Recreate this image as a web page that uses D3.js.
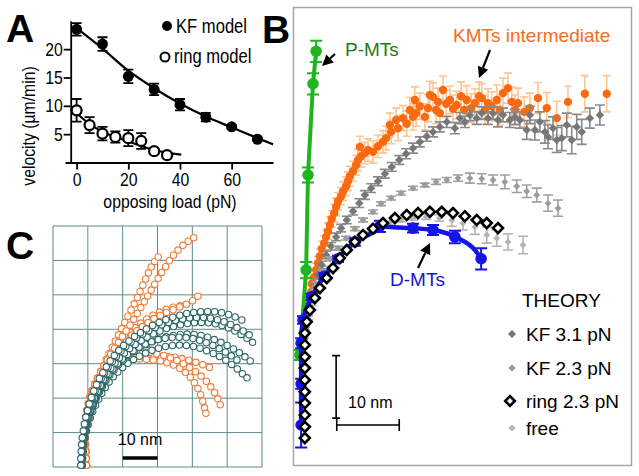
<!DOCTYPE html>
<html>
<head>
<meta charset="utf-8">
<script src="https://cdn.jsdelivr.net/npm/d3@7"></script>
<style>
body { margin: 0; background: #fff; }
</style>
</head>
<body>
<div id="chart"></div>
<script>
// ---- panel A : velocity vs opposing load ----
const loadKF = [0, 10, 20, 30, 40, 50, 60, 70];
const velKF = [23.5, 20.9, 15.2, 12.9, 10.2, 8.0, 6.3, 4.1];
const errKF = [1.1, 1.2, 1.2, 1.0, 1.0, 0.75, 0.3, 0.3];
const loadRing = [0, 5, 10, 15, 20, 25, 30, 35];
const velRing = [9.2, 6.6, 5.1, 4.5, 4.3, 3.8, 2.0, 1.3];
const errRing = [2.0, 1.4, 1.2, 1.0, 1.4, 1.4, 0.5, 0.3];
const fitKF = [[0,23.7],[10,20.1],[20,16.2],[30,13.1],[40,10.4],[50,8.1],[60,6.2],[70,4.3],[76,3.2]];
const fitRing = [[0,8.7],[5,6.8],[10,5.4],[15,4.5],[20,3.7],[25,2.9],[30,2.2],[35,1.7],[40.5,1.4]];
const xTicksA = [0, 20, 40, 60];
const yTicksA = [5, 10, 15, 20];

// ---- panel B : trajectories in nm, [x, y, error] ----
const greenP = [[2.1,62.2,1.7],[1.6,57.0,1.7],[0.8,42.4,1.2],[0.5,27.2,1.3],[-0.5,13.6,0.8]];
const orangeKMT = [[0.0,10.0,1.0],[0.1,13.0,1.0],[0.2,16.3,1.0],[0.3,17.9,1.0],[0.5,19.5,1.0],[0.6,21.0,1.0],[1.0,22.4,1.0],[1.3,23.7,1.0],[1.4,25.0,1.1],[1.8,26.1,1.1],[2.1,27.2,1.1],[2.4,28.3,1.1],[2.7,29.4,1.2],[3.0,30.6,1.2],[3.4,31.5,1.2],[3.7,32.5,1.2],[4.0,33.4,1.3],[4.3,34.4,1.3],[4.6,35.4,1.3],[5.0,36.3,1.4],[5.3,37.3,1.4],[5.6,38.2,1.4],[6.1,39.0,1.4],[6.4,39.8,1.5],[6.9,40.6,1.5],[7.2,41.4,1.5],[7.5,42.2,1.6],[8.0,43.0,1.6],[8.5,44.0,1.6],[8.8,44.8,1.7],[9.3,45.4,1.7],[9.9,45.9,1.7],[9.1,46.9,1.7],[10.4,46.4,1.8],[11.2,46.1,1.8],[12.0,47.0,1.8],[12.8,47.7,1.8],[13.3,48.3,1.9],[13.9,50.4,1.9],[14.1,49.3,1.9],[14.9,51.2,1.9],[15.2,49.9,2.0],[16.0,51.5,2.0],[16.6,50.6,2.0],[17.1,52.8,2.0],[17.6,51.7,2.1],[17.9,54.4,2.1],[18.1,52.3,2.1],[18.7,53.4,2.1],[19.5,51.7,2.1],[20.0,53.1,2.2],[20.3,55.2,2.2],[20.8,54.9,2.2],[21.3,52.8,2.2],[21.6,54.1,2.2],[21.9,52.3,2.2],[22.4,56.0,2.2],[22.9,53.8,2.2],[23.5,54.4,2.2],[24.0,53.0,2.2],[24.6,53.6,2.2],[25.3,55.0,2.3],[25.8,52.8,2.3],[26.2,54.4,2.3],[26.9,53.1,2.3],[27.5,53.9,2.3],[28.2,55.0,2.3],[28.6,54.7,2.3],[29.1,52.8,2.3],[29.6,53.9,2.3],[30.2,53.4,2.3],[31.0,54.4,2.4],[31.5,52.8,2.4],[32.0,55.5,2.4],[32.8,56.3,2.4],[33.4,54.1,2.4],[33.9,52.8,2.4],[34.4,53.9,2.4],[35.4,52.5,2.4],[36.3,53.1,2.4],[37.6,54.7,2.5],[39.0,53.1,2.5],[40.6,51.5,2.7],[42.4,54.1,2.5],[45.1,55.4,2.9],[48.6,55.4,2.9]];
const kf31 = [[0.3,17.6,0.5],[0.6,19.5,0.5],[1.0,21.3,0.5],[1.4,23.0,0.5],[1.9,24.8,0.5],[2.4,26.4,0.6],[3.0,28.0,0.6],[3.7,29.6,0.6],[4.5,31.0,0.6],[5.3,32.5,0.6],[6.1,33.9,0.6],[7.0,35.2,0.6],[8.0,36.6,0.6],[9.0,37.9,0.7],[9.9,39.2,0.7],[10.9,40.3,0.7],[12.0,41.4,0.7],[13.1,42.6,0.7],[14.2,43.7,0.7],[15.4,44.8,0.7],[16.5,45.8,0.8],[17.6,46.7,0.8],[18.7,47.7,0.8],[19.8,48.6,0.8],[20.8,49.3,0.8],[21.9,50.1,0.8],[23.0,50.9,0.9],[24.3,49.9,0.9],[25.1,51.5,0.9],[25.9,50.9,0.9],[26.7,52.0,0.9],[27.8,51.5,1.0],[28.6,52.3,1.0],[29.6,51.5,1.0],[30.4,52.3,1.0],[31.2,51.2,1.1],[32.0,52.0,1.1],[33.1,51.2,1.2],[33.9,51.7,1.2],[34.7,51.2,1.3],[35.8,49.6,1.5],[36.3,52.0,1.4],[37.1,49.6,1.6],[37.9,50.9,1.6],[38.7,49.3,1.8],[39.2,48.5,1.9],[40.0,49.9,1.8],[40.6,48.0,2.0],[41.4,48.3,2.0],[42.2,50.4,1.9],[43.0,48.0,2.2],[43.8,50.1,2.0],[44.6,49.3,2.0],[45.9,51.5,1.6],[47.5,52.0,1.6]];
const kf23 = [[0.3,17.9,0.3],[0.8,20.3,0.3],[1.4,22.7,0.3],[2.2,25.0,0.3],[3.2,27.0,0.3],[4.3,29.0,0.3],[5.6,30.7,0.3],[6.9,32.3,0.3],[8.3,33.8,0.3],[9.6,35.2,0.3],[11.2,36.5,0.3],[12.5,37.8,0.3],[14.1,38.7,0.3],[15.7,39.5,0.3],[17.6,40.3,0.3],[19.5,40.8,0.3],[21.3,41.3,0.4],[23.0,41.6,0.4],[24.8,41.9,0.5],[26.7,41.9,0.8],[28.6,41.8,0.8],[30.4,41.6,0.8],[32.3,41.3,1.1],[34.2,40.6,1.0],[35.8,39.8,1.0],[37.4,39.2,1.1],[39.2,37.9,1.3],[40.8,37.1,1.3]];
const ring23 = [[0.3,0.3],[0.3,2.1],[0.3,4.0],[0.3,5.9],[0.3,7.7],[0.3,9.6],[0.3,11.5],[0.3,13.3],[0.3,15.2],[0.3,17.1],[0.6,18.9],[1.1,20.8],[1.9,22.7],[2.7,24.3],[3.8,25.9],[4.8,27.5],[5.9,29.1],[7.0,30.4],[8.3,31.7],[9.6,32.8],[11.2,33.8],[12.8,34.7],[14.7,35.5],[16.6,36.0],[18.4,36.3],[20.3,36.5],[22.2,36.5],[24.0,36.3],[25.9,35.8],[27.8,35.2],[29.4,34.7],[31.2,33.9]];
const free = [[0.3,17.3,0.3],[0.8,19.5,0.3],[1.4,21.8,0.3],[2.2,23.8,0.3],[3.2,25.8,0.3],[4.3,27.5,0.3],[5.6,29.1,0.3],[7.0,30.6,0.3],[8.5,31.8,0.3],[10.1,33.0,0.3],[11.8,33.9,0.3],[13.8,34.7,0.3],[15.7,35.2,0.3],[17.6,35.5,0.3],[19.7,35.7,0.4],[21.8,35.5,0.5],[23.8,35.2,1.0],[25.6,34.7,1.1],[27.5,34.1,1.2],[29.4,32.8,1.3],[31.0,32.3,1.3],[32.8,31.7,1.3],[35.2,31.2,1.4]];
const blueD = [[-0.3,2.4,3.6],[-0.3,9.0,0.8],[-0.3,15.5,0.8],[0.0,19.2,0.6],[1.4,22.9,0.5],[3.4,26.2,0.5],[5.6,29.0,0.5],[8.3,31.7,0.6],[12.3,34.2,0.9],[17.6,33.9,0.7],[20.8,33.6,0.8],[24.3,32.5,1.0],[28.5,29.0,1.7]];
const legendB = ['KF 3.1 pN', 'KF 2.3 pN', 'ring 2.3 pN', 'free'];

// ---- panel C : simulated protofilament shapes, nm ----
const teal1 = [[8.0,0.5],[8.0,2.5],[8.1,4.5],[8.2,6.5],[8.4,8.5],[8.7,10.5],[9.0,12.5],[9.4,14.5],[9.9,16.4],[10.4,18.3],[11.0,20.2],[11.7,22.1],[12.5,23.9],[13.3,25.7],[14.3,27.4],[15.3,29.1],[16.4,30.8],[17.6,32.4],[18.9,33.9],[20.3,35.3],[21.8,36.6],[23.4,37.9],[25.1,39.0],[26.8,40.1],[28.6,41.1],[30.5,42.0],[32.4,42.8],[34.4,43.5],[36.4,44.1],[38.4,44.6],[40.4,44.9],[42.4,45.1],[44.4,45.2],[46.4,45.1],[48.4,44.8],[50.4,44.3],[52.3,43.6],[54.2,42.7]];
const teal2 = [[8.2,0.5],[8.2,2.5],[8.3,4.5],[8.5,6.5],[8.8,8.5],[9.1,10.5],[9.5,12.5],[10.0,14.4],[10.6,16.3],[11.2,18.2],[11.9,20.1],[12.7,21.9],[13.6,23.7],[14.5,25.4],[15.5,27.1],[16.6,28.7],[17.8,30.2],[19.1,31.7],[20.5,33.1],[22.0,34.4],[23.6,35.6],[25.3,36.7],[27.0,37.7],[28.8,38.7],[30.7,39.5],[32.6,40.2],[34.6,40.8],[36.6,41.3],[38.6,41.7],[40.6,41.9],[42.6,42.0],[44.6,41.9],[46.6,41.6],[48.5,41.1],[50.4,40.4],[52.2,39.5],[54.0,38.5],[55.7,37.4],[57.3,36.2]];
const teal3 = [[8.3,0.5],[8.4,2.5],[8.5,4.5],[8.7,6.5],[9.0,8.5],[9.4,10.5],[9.8,12.4],[10.3,14.3],[10.9,16.2],[11.6,18.1],[12.4,19.9],[13.3,21.7],[14.2,23.4],[15.2,25.1],[16.3,26.7],[17.5,28.2],[18.8,29.7],[20.2,31.1],[21.7,32.4],[23.3,33.6],[25.0,34.7],[26.8,35.6],[28.6,36.5],[30.5,37.2],[32.5,37.8],[34.5,38.2],[36.5,38.5],[38.5,38.6],[40.5,38.5],[42.5,38.2],[44.4,37.7],[46.3,37.0],[48.2,36.2],[50.0,35.3],[51.8,34.3],[53.5,33.2],[55.1,32.0],[56.6,30.8]];
const teal4 = [[8.4,0.5],[8.5,2.5],[8.7,4.5],[8.9,6.5],[9.2,8.5],[9.6,10.4],[10.1,12.3],[10.7,14.2],[11.4,16.1],[12.2,17.9],[13.1,19.7],[14.0,21.4],[15.0,23.1],[16.1,24.7],[17.3,26.2],[18.6,27.6],[20.0,28.9],[21.5,30.1],[23.1,31.2],[24.8,32.2],[26.6,33.1],[28.4,33.9],[30.3,34.5],[32.3,35.0],[34.3,35.3],[36.3,35.4],[38.3,35.3],[40.3,35.0],[42.2,34.5],[44.1,33.8],[46.0,33.0],[47.8,32.1],[49.6,31.0],[51.3,29.8],[52.9,28.5],[54.4,27.1],[55.7,25.9]];
const teal5 = [[8.1,0.5],[8.2,2.5],[8.3,4.5],[8.5,6.5],[8.8,8.5],[9.2,10.5],[9.6,12.5],[10.1,14.4],[10.7,16.3],[11.4,18.2],[12.2,20.0],[13.0,21.8],[13.9,23.6],[14.9,25.3],[16.0,26.9],[17.2,28.5],[18.5,30.0],[19.9,31.4],[21.4,32.7],[23.0,33.8],[24.7,34.8],[26.5,35.7],[28.3,36.4],[30.2,37.0],[32.2,37.4],[34.2,37.6],[36.2,37.7],[38.2,37.6],[40.2,37.3],[42.1,36.8],[44.0,36.1],[45.9,35.3],[47.7,34.4],[49.5,33.4],[51.2,32.3],[52.8,31.1]];
const teal6 = [[8.1,0.5],[8.1,2.5],[8.2,4.5],[8.4,6.5],[8.6,8.5],[8.9,10.5],[9.3,12.5],[9.7,14.5],[10.2,16.4],[10.8,18.3],[11.4,20.2],[12.1,22.0],[12.9,23.8],[13.8,25.6],[14.8,27.3],[15.8,29.0],[17.0,30.6],[18.2,32.1],[19.5,33.6],[20.9,35.0],[22.4,36.3],[24.0,37.5],[25.7,38.6],[27.5,39.6],[29.3,40.5],[31.2,41.3],[33.2,42.0],[35.2,42.6],[37.2,43.0],[39.2,43.3],[41.2,43.4],[43.2,43.4],[45.2,43.2],[47.2,42.8],[49.1,42.2],[51.0,41.4],[52.8,40.5],[54.6,39.5],[56.3,38.4]];
const orangeStem = [[9.6,0.5],[9.5,2.5],[9.4,4.5],[9.3,6.5],[9.2,8.5],[9.2,10.5],[9.3,12.5],[9.5,14.5],[9.8,16.5],[10.2,18.4],[10.7,20.3],[11.3,22.2],[12.0,24.0],[12.8,25.8],[13.7,27.6]];
const orange1 = orangeStem.concat([[14.6,29.4],[15.6,31.1],[16.6,32.8],[17.7,34.5],[18.8,36.2],[19.9,37.9],[21.0,39.5],[22.1,41.2],[23.2,42.9],[24.2,44.6],[25.2,46.3],[26.2,48.0],[27.2,49.7],[28.2,51.4],[29.2,53.1],[30.2,54.8],[31.2,56.5],[32.3,58.2],[33.4,59.9],[34.6,61.5],[35.9,63.0],[37.3,64.4],[38.8,65.6],[40.4,66.6]]);
const orange2 = orangeStem.concat([[14.5,29.4],[15.3,31.2],[16.1,33.0],[17.0,34.8],[17.9,36.6],[18.8,38.4],[19.7,40.2],[20.6,42.0],[21.5,43.8],[22.4,45.6],[23.3,47.4],[24.2,49.2],[25.0,51.0],[25.8,52.8],[26.6,54.6],[27.4,56.4],[28.2,58.1],[29.2,59.7],[30.2,61.0]]);
const orange3 = orangeStem.concat([[14.8,29.3],[16.0,30.9],[17.2,32.5],[18.5,34.0],[19.8,35.5],[21.2,36.9],[22.6,38.3],[24.1,39.6],[25.7,40.8],[27.3,42.0],[29.0,43.1],[30.8,44.0],[32.6,44.9],[34.5,45.7],[36.4,46.5],[38.3,47.3],[40.1,48.3],[41.6,49.6]]);
const orange4 = orangeStem.concat([[15.3,28.8],[17.1,29.7],[19.0,30.4],[21.0,30.9],[23.0,31.3],[25.0,31.6],[27.0,31.8],[29.0,32.0],[31.0,32.1],[33.0,32.1],[35.0,31.9],[37.0,31.5],[39.0,31.0],[41.0,30.4],[43.0,29.7],[44.9,28.9]]);
const orange5 = orangeStem.concat([[15.2,29.0],[16.9,30.1],[18.8,30.8],[20.8,31.2],[22.8,31.4],[24.8,31.4],[26.8,31.3],[28.8,31.1],[30.8,30.8],[32.7,30.3],[34.6,29.6],[36.4,28.7],[38.0,27.5],[39.4,26.1],[40.6,24.5],[41.6,22.8],[42.4,21.0],[43.0,19.1],[43.5,17.2],[43.9,15.6]]);
const orange6 = orangeStem.concat([[15.0,29.1],[16.5,30.5],[18.1,31.7],[19.9,32.6],[21.8,33.2],[23.8,33.5],[25.8,33.5],[27.8,33.3],[29.8,32.9],[31.8,32.4],[33.7,31.7],[35.6,30.9],[37.4,30.0],[39.2,28.9],[40.9,27.7],[42.5,26.4],[44.0,24.9],[45.3,23.3],[46.4,21.6],[47.3,19.8],[48.0,18.1]]);
const orange7 = orangeStem.concat([[14.7,29.4],[15.8,31.1],[16.9,32.8],[18.1,34.4],[19.4,36.0],[20.7,37.6],[22.1,39.1],[23.6,40.5],[25.2,41.8],[26.9,43.0],[28.7,44.1],[30.6,45.0],[32.5,45.8],[34.5,46.4],[36.5,46.8]]);
const tealRuns = [teal4, teal3, teal5, teal2, teal6, teal1];
const orangeRuns = [orange4, orange5, orange6, orange7, orange3, orange2, orange1];
const gridC = [0, 10, 20, 30, 40, 50, 60, 70];

const SANS = '"Liberation Sans", Arial, sans-serif';

const svg = d3.select('#chart').append('svg')
    .attr('width', 639).attr('height', 476)
    .style('font-family', SANS);

function errorBars(g, data, x, y, color, cap, width) {
    g.append('g').attr('stroke', color).attr('stroke-width', width).attr('fill', 'none')
        .selectAll('path').data(data).join('path')
        .attr('d', d => {
            const cx = x(d[0]), y0 = y(d[1] - d[2]), y1 = y(d[1] + d[2]);
            return `M${cx},${y0}V${y1}M${cx - cap},${y0}H${cx + cap}M${cx - cap},${y1}H${cx + cap}`;
        });
}

function diamonds(g, data, x, y, area, fill, stroke, sw) {
    g.append('g').selectAll('path').data(data).join('path')
        .attr('d', d3.symbol().type(d3.symbolSquare).size(area)())
        .attr('transform', d => `translate(${x(d[0])},${y(d[1])}) rotate(45)`)
        .attr('fill', fill)
        .attr('stroke', stroke)
        .attr('stroke-width', sw);
}

function arrow(x1, y1, x2, y2) {
    const a = Math.atan2(y2 - y1, x2 - x1), L = 11, W = 5.5;
    const bx = x2 - L * Math.cos(a), by = y2 - L * Math.sin(a);
    svg.append('line').attr('x1', x1).attr('y1', y1).attr('x2', bx).attr('y2', by)
        .attr('stroke', '#000').attr('stroke-width', 2.2);
    svg.append('path')
        .attr('d', `M${x2},${y2}L${bx - W * Math.sin(a)},${by + W * Math.cos(a)}L${bx + W * Math.sin(a)},${by - W * Math.cos(a)}Z`)
        .attr('fill', '#000');
}

// ================= panel A =================
const xA = d3.scaleLinear().domain([-4.5, 76]).range([65, 273]);
const yA = d3.scaleLinear().domain([0, 25]).range([162.5, 20.8]);
const gA = svg.append('g');

gA.append('g').attr('transform', 'translate(0,162.5)')
    .call(d3.axisBottom(xA).tickValues(xTicksA).tickSize(7).tickSizeOuter(0).tickPadding(3))
    .call(g => g.selectAll('path,line').attr('stroke', '#000').attr('stroke-width', 1.8))
    .call(g => g.selectAll('text').style('font-family', SANS).style('font-size', '19px').attr('fill', '#000'));

gA.append('g').attr('transform', 'translate(70.7,0)')
    .call(d3.axisLeft(yA).tickValues(yTicksA).tickSize(7).tickSizeOuter(0).tickPadding(1))
    .call(g => g.selectAll('path,line').attr('stroke', '#000').attr('stroke-width', 1.8))
    .call(g => g.selectAll('text').style('font-family', SANS).style('font-size', '19px').attr('fill', '#000'));

const lineA = d3.line().x(d => xA(d[0])).y(d => yA(d[1])).curve(d3.curveMonotoneX);
gA.append('path').datum(fitKF).attr('d', lineA).attr('fill', 'none').attr('stroke', '#000').attr('stroke-width', 2.2);
gA.append('path').datum(fitRing).attr('d', lineA).attr('fill', 'none').attr('stroke', '#000').attr('stroke-width', 2.2);

const kfA = loadKF.map((l, i) => [l, velKF[i], errKF[i]]);
const ringA = loadRing.map((l, i) => [l, velRing[i], errRing[i]]);
errorBars(gA, kfA, xA, yA, '#000', 5, 1.8);
errorBars(gA, ringA, xA, yA, '#000', 5, 1.8);

gA.append('g').selectAll('circle').data(kfA).join('circle')
    .attr('cx', d => xA(d[0])).attr('cy', d => yA(d[1])).attr('r', 5.5).attr('fill', '#000');
gA.append('g').selectAll('circle').data(ringA).join('circle')
    .attr('cx', d => xA(d[0])).attr('cy', d => yA(d[1])).attr('r', 5)
    .attr('fill', '#fff').attr('stroke', '#000').attr('stroke-width', 2.2);

// legend A
gA.append('circle').attr('cx', 167).attr('cy', 26).attr('r', 5).attr('fill', '#000');
gA.append('text').attr('x', 176).attr('y', 33).text('KF model').style('font-size', '20px');
gA.append('circle').attr('cx', 165).attr('cy', 57).attr('r', 4.5)
    .attr('fill', '#fff').attr('stroke', '#000').attr('stroke-width', 2);
gA.append('text').attr('x', 174).attr('y', 63).text('ring model').style('font-size', '20px');

gA.append('text').attr('transform', 'translate(35,126) rotate(-90)')
    .attr('text-anchor', 'middle').text('velocity (\u00b5m/min)').style('font-size', '19px');
gA.append('text').attr('x', 170).attr('y', 208).attr('text-anchor', 'middle')
    .text('opposing load (pN)').style('font-size', '19px');

// panel A type is condensed: squeeze every label horizontally
gA.selectAll('text').each(function () {
    const w = this.getComputedTextLength();
    d3.select(this).attr('textLength', w * 0.83).attr('lengthAdjust', 'spacingAndGlyphs');
});

// panel letters
[['A', 6, 42], ['B', 262, 43], ['C', 6, 259]].forEach(([t, x, y]) => {
    svg.append('text').attr('x', x).attr('y', y).text(t)
        .attr('font-weight', 'bold').style('font-size', '39px');
});

// ================= panel B =================
const xB = d3.scaleLinear().domain([0, 50]).range([303, 615.5]);
const yB = d3.scaleLinear().domain([0, 70]).range([440, 2.5]);
const gB = svg.append('g');

gB.append('rect').attr('x', 293.5).attr('y', 7.5).attr('width', 338).attr('height', 458)
    .attr('fill', 'none').attr('stroke', '#a4a4a4').attr('stroke-width', 1.5);

// KMTs intermediate
errorBars(gB, orangeKMT, xB, yB, '#fcc593', 4, 1.6);
gB.append('g').selectAll('circle').data(orangeKMT).join('circle')
    .attr('cx', d => xB(d[0])).attr('cy', d => yB(d[1])).attr('r', 4.2).attr('fill', '#fb6a10');

// theory curves
errorBars(gB, kf31, xB, yB, '#8a8a8a', 5, 1.6);
diamonds(gB, kf31, xB, yB, 36, '#777', 'none', 0);
errorBars(gB, kf23, xB, yB, '#a0a0a0', 5, 1.6);
diamonds(gB, kf23, xB, yB, 24, '#9c9c9c', 'none', 0);
errorBars(gB, free, xB, yB, '#b4b4b4', 5, 1.6);
diamonds(gB, free, xB, yB, 24, '#b4b4b4', 'none', 0);

// P-MTs
const lineB = d3.line().x(d => xB(d[0])).y(d => yB(d[1]));
gB.append('path').datum(greenP).attr('d', lineB).attr('fill', 'none')
    .attr('stroke', '#1fb51f').attr('stroke-width', 4);
errorBars(gB, greenP, xB, yB, '#1fb51f', 6, 2);
gB.append('g').selectAll('circle').data(greenP).join('circle')
    .attr('cx', d => xB(d[0])).attr('cy', d => yB(d[1])).attr('r', 5.8).attr('fill', '#1fb51f');

// D-MTs
gB.append('path').datum(blueD).attr('d', lineB.curve(d3.curveMonotoneY)).attr('fill', 'none')
    .attr('stroke', '#1414e6').attr('stroke-width', 4.5);
errorBars(gB, blueD, xB, yB, '#1414e6', 6, 2);
gB.append('g').selectAll('circle').data(blueD).join('circle')
    .attr('cx', d => xB(d[0])).attr('cy', d => yB(d[1])).attr('r', 5.8).attr('fill', '#1414e6');

// ring model
diamonds(gB, ring23, xB, yB, 50, '#fff', '#000', 2.6);

gB.append('text').attr('x', 453).attr('y', 42).text('KMTs intermediate')
    .attr('fill', '#f56d1d').style('font-size', '19px');
gB.append('text').attr('x', 345).attr('y', 56).text('P-MTs')
    .attr('fill', '#1b7c1b').style('font-size', '19px');
gB.append('text').attr('x', 390).attr('y', 286).text('D-MTs')
    .attr('fill', '#1616cc').style('font-size', '19px');
arrow(490, 50, 479, 78);
arrow(335, 54, 322, 66);
arrow(418, 268, 430, 243);

// legend B
gB.append('text').attr('x', 522).attr('y', 307).text('THEORY').style('font-size', '19px');
const legY = [334, 368, 401, 428];
const legStyle = [['#777', 'none', 0, 34], ['#9c9c9c', 'none', 0, 26], ['#fff', '#000', 2.6, 46], ['#b4b4b4', 'none', 0, 26]];
legendB.forEach((t, i) => {
    const [fill, stroke, sw, area] = legStyle[i];
    gB.append('path').attr('d', d3.symbol().type(d3.symbolSquare).size(area)())
        .attr('transform', `translate(${i === 2 ? 510 : 512},${legY[i]}) rotate(45)`)
        .attr('fill', fill).attr('stroke', stroke).attr('stroke-width', sw);
    gB.append('text').attr('x', 526).attr('y', legY[i] + 7).text(t).style('font-size', '19px');
});

// 10 nm scale bar B
const sbx = xB(5.3), sby0 = yB(3.5), sby1 = yB(13.5);
const hy = yB(2.4), hx0 = xB(5.4), hx1 = xB(15.4);
gB.append('path')
    .attr('d', `M${sbx},${sby0}V${sby1}M${sbx - 4},${sby0}H${sbx + 4}M${sbx - 4},${sby1}H${sbx + 4}` +
        `M${hx0},${hy}H${hx1}M${hx0},${hy - 6}V${hy + 6}M${hx1},${hy - 6}V${hy + 6}`)
    .attr('stroke', '#000').attr('stroke-width', 1.6).attr('fill', 'none');
gB.append('text').attr('x', 348).attr('y', 408).text('10 nm').style('font-size', '16px');

// ================= panel C =================
const xC = d3.scaleLinear().domain([0, 60]).range([53, 262]);
const yC = d3.scaleLinear().domain([0, 70]).range([467, 226]);
const gC = svg.append('g');

gC.append('g').attr('stroke', '#5f8b8b').attr('stroke-width', 1)
    .call(g => g.selectAll('line.v').data(gridC.filter(v => v <= 60)).join('line').attr('class', 'v')
        .attr('x1', d => xC(d)).attr('x2', d => xC(d)).attr('y1', yC(0)).attr('y2', yC(70)))
    .call(g => g.selectAll('line.h').data(gridC).join('line').attr('class', 'h')
        .attr('y1', d => yC(d)).attr('y2', d => yC(d)).attr('x1', xC(0)).attr('x2', xC(60)));

const lineC = d3.line().x(d => xC(d[0])).y(d => yC(d[1]));
function runs(list, color) {
    list.forEach(run => {
        const g = gC.append('g');
        g.append('path').datum(run).attr('d', lineC).attr('fill', 'none')
            .attr('stroke', color).attr('stroke-width', 0.8);
        g.selectAll('circle').data(run).join('circle')
            .attr('cx', d => xC(d[0])).attr('cy', d => yC(d[1])).attr('r', 3.2)
            .attr('fill', '#fff').attr('stroke', color).attr('stroke-width', 1.1);
    });
}
runs(orangeRuns, '#ef7b36');
runs(tealRuns, '#2c6666');

gC.append('line').attr('x1', xC(20)).attr('x2', xC(30)).attr('y1', 458).attr('y2', 458)
    .attr('stroke', '#000').attr('stroke-width', 3.5);
gC.append('text').attr('x', (xC(20) + xC(30)) / 2).attr('y', 445).attr('text-anchor', 'middle')
    .text('10 nm').style('font-size', '16px');
</script>
</body>
</html>
